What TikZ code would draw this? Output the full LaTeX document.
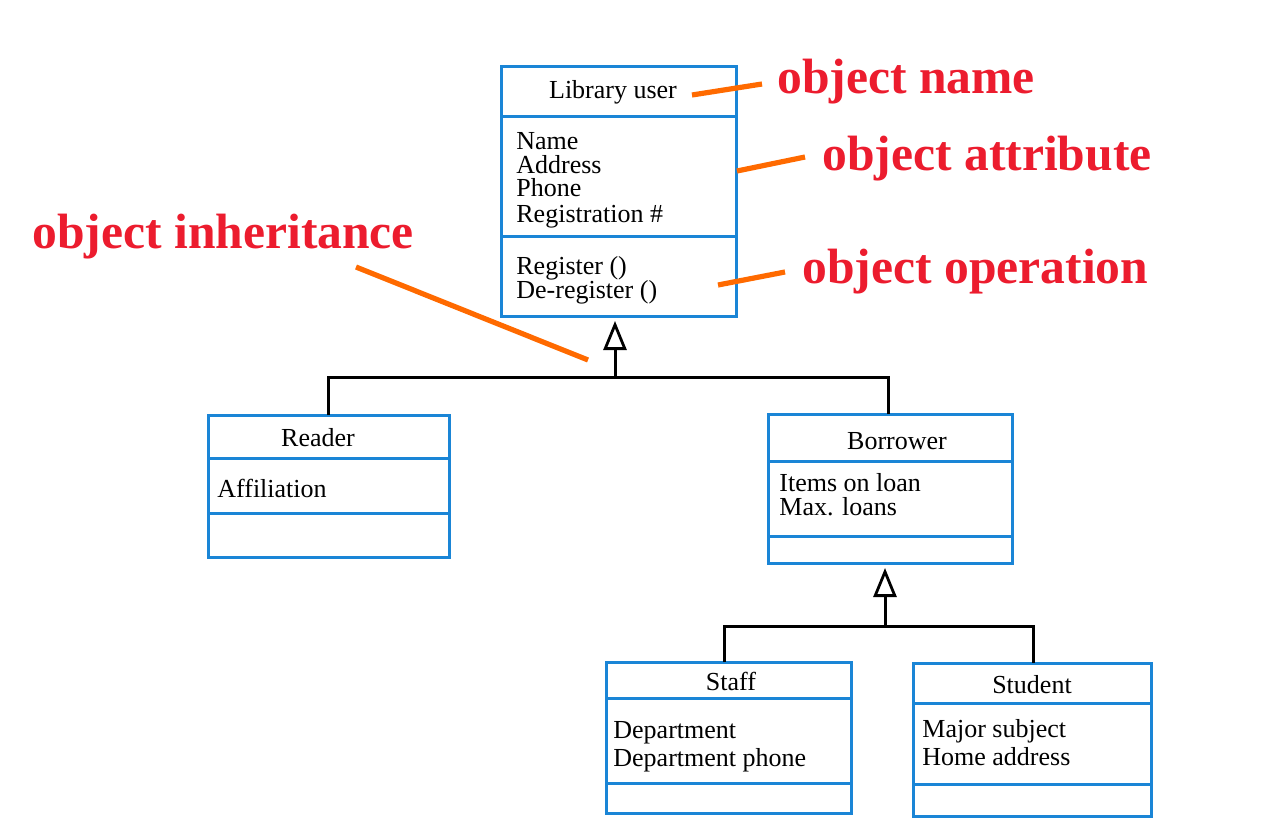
\documentclass[tikz,border=0pt]{standalone}
\usepackage{fontspec}
\setmainfont{Liberation Serif}
\usetikzlibrary{arrows.meta}
\definecolor{umlblue}{RGB}{26,133,214}
\definecolor{annred}{RGB}{236,28,46}
\definecolor{annorange}{RGB}{255,106,0}
\begin{document}
\begin{tikzpicture}[x=0.5pt,y=-0.5pt,
  umlbox/.style={draw=umlblue, line width=1.5pt, anchor=north west, inner sep=0pt, outer sep=0pt},
  divline/.style={draw=umlblue, line width=1.5pt},
  boxtitle/.style={font=\fontsize{13}{14}\selectfont, anchor=base, inner sep=0pt},
  boxline/.style={font=\fontsize{13}{14}\selectfont, anchor=base west, inner sep=0pt},
  annot/.style={font=\bfseries\fontsize{24.8}{26}\selectfont, text=annred, anchor=base west, inner sep=0pt},
  leader/.style={draw=annorange, line width=2.6pt},
  genline/.style={draw=black, line width=1.5pt},
  gentip/.style={-{Triangle[open, length=14.5pt, width=11.5pt, line width=1.4pt]}, shorten >=2.5pt}
]
\useasboundingbox (0,0) rectangle (1264,840);

% ---- boxes
\node[umlbox, minimum width=117.5pt, minimum height=124.5pt] (lib) at (501,67) {};
\node[umlbox, minimum width=120.5pt, minimum height=71pt] (reader) at (208,415) {};
\node[umlbox, minimum width=122pt, minimum height=74.5pt] (borrower) at (768,414) {};
\node[umlbox, minimum width=122.5pt, minimum height=75.5pt] (staff) at (606,662) {};
\node[umlbox, minimum width=119pt, minimum height=76.5pt] (student) at (913,663) {};

% ---- compartment dividers
\draw[divline] (lib.west |- 0,117) -- (lib.east |- 0,117);
\draw[divline] (lib.west |- 0,236) -- (lib.east |- 0,236);
\draw[divline] (reader.west |- 0,458) -- (reader.east |- 0,458);
\draw[divline] (reader.west |- 0,513) -- (reader.east |- 0,513);
\draw[divline] (borrower.west |- 0,461) -- (borrower.east |- 0,461);
\draw[divline] (borrower.west |- 0,536) -- (borrower.east |- 0,536);
\draw[divline] (staff.west |- 0,698) -- (staff.east |- 0,698);
\draw[divline] (staff.west |- 0,783) -- (staff.east |- 0,783);
\draw[divline] (student.west |- 0,703) -- (student.east |- 0,703);
\draw[divline] (student.west |- 0,784) -- (student.east |- 0,784);

% ---- texts
\node[boxtitle] (libT) at (613,99) {Library user};
\node[boxline] (libA1) at (516,149) {Name};
\node[boxline] (libA2) at (516,174) {Address};
\node[boxline] (libA3) at (516,197) {Phone};
\node[boxline] (libA4) at (516,222) {Registration \#};
\node[boxline] (libO1) at (516,274) {Register ()};
\node[boxline] (libO2) at (516,298) {De-register ()};

\node[boxtitle] (readerT) at (318,446) {Reader};
\node[boxline] (readerA1) at (217,497) {Affiliation};

\node[boxtitle] (borrowerT) at (897,449) {Borrower};
\node[boxline] (borrowerA1) at (779,491) {Items on loan};
\node[boxline] (borrowerA2) at (779,515) {Max. loans};

\node[boxtitle] (staffT) at (731,690) {Staff};
\node[boxline] (staffA1) at (613,738) {Department};
\node[boxline] (staffA2) at (613,766) {Department phone};

\node[boxtitle] (studentT) at (1032,693) {Student};
\node[boxline] (studentA1) at (922,737) {Major subject};
\node[boxline] (studentA2) at (922,765) {Home address};

% ---- generalisation connectors
\coordinate (j1) at (615,377);
\draw[genline] (reader.north) |- (j1) -| ([xshift=-1pt]borrower.north);
\draw[genline, gentip] (j1) -- (j1 |- lib.south);
\coordinate (j2) at (885,626);
\draw[genline] ([xshift=-2.25pt]staff.north) |- (j2) -| ([xshift=0.5pt]student.north);
\draw[genline, gentip] (j2) -- (j2 |- borrower.south);

% ---- annotations
\node[annot] (aname) at (777,94) {object name};
\node[annot] (aattr) at (822,170) {object attribute};
\node[annot] (ainh) at (32,248) {object inheritance};
\node[annot] (aop) at (802,283) {object operation};

\coordinate (ln1a) at (692,95);  \coordinate (ln1b) at (762,84);
\coordinate (ln2a) at (737,171); \coordinate (ln2b) at (805,157);
\coordinate (ln3a) at (718,285); \coordinate (ln3b) at (785,272);
\coordinate (ln4a) at (356,267); \coordinate (ln4b) at (588,360);
\draw[leader] (ln1a) -- (ln1b);
\draw[leader] (ln2a) -- (ln2b);
\draw[leader] (ln3a) -- (ln3b);
\draw[leader] (ln4a) -- (ln4b);
\end{tikzpicture}
\end{document}
